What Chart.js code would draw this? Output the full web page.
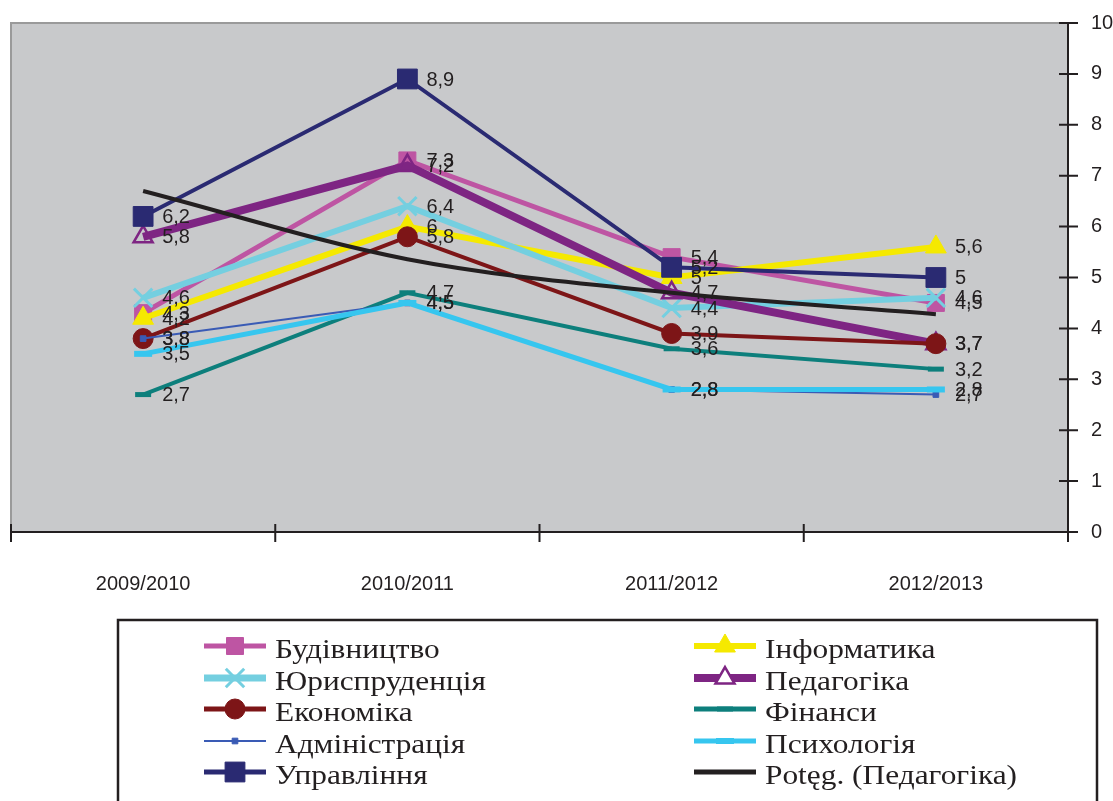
<!DOCTYPE html>
<html><head><meta charset="utf-8">
<script src="https://cdn.jsdelivr.net/npm/chart.js@4/dist/chart.umd.min.js"></script>
<style>html,body{margin:0;padding:0;background:#fff;}#wrap{width:1113px;height:801px;position:relative;}canvas{display:block;}</style>
</head><body><div id="wrap"><canvas id="c" width="1113" height="801"></canvas></div>
<script>
const categories = ['2009/2010', '2010/2011', '2011/2012', '2012/2013'];
const yTickValues = [0, 1, 2, 3, 4, 5, 6, 7, 8, 9, 10];
const budivnytstvo = [4.3, 7.3, 5.4, 4.5];
const informatyka = [4.2, 6.0, 5.0, 5.6];
const yurysprudentsiia = [4.6, 6.4, 4.4, 4.6];
const pedahohika = [5.8, 7.2, 4.7, 3.7];
const ekonomika = [3.8, 5.8, 3.9, 3.7];
const finansy = [2.7, 4.7, 3.6, 3.2];
const administratsiia = [3.8, 4.5, 2.8, 2.7];
const psykholohiia = [3.5, 4.5, 2.8, 2.8];
const upravlinnia = [6.2, 8.9, 5.2, 5.0];
const trendPedahohika = [6.7, 5.36, 4.7, 4.28];
const seriesNames = ['Будівництво', 'Інформатика', 'Юриспруденція', 'Педагогіка', 'Економіка',
  'Фінанси', 'Адміністрація', 'Психологія', 'Управління', 'Potęg. (Педагогіка)'];

const TXT = '#231F20';
const styles = [
  {c:'#BE55A3', w:5, ps:'rect', r:12, fill:'#BE55A3', pw:1, lw:5},
  {c:'#F5E900', w:6, ps:'triangle', r:12, fill:'#F5E900', pw:1, lw:6},
  {c:'#74CFE0', w:6, ps:'crossRot', r:13, fill:'#74CFE0', pw:3, lw:7},
  {c:'#7E2583', w:8, ps:'triangle', r:11, fill:'rgba(0,0,0,0)', pw:2.5, lw:8},
  {c:'#7D1517', w:4, ps:'circle', r:10, fill:'#7D1517', pw:1, lw:5},
  {c:'#0D7F7C', w:4, ps:'line', r:8, fill:'#0D7F7C', pw:5, lw:5},
  {c:'#3A5BB5', w:2, ps:'rect', r:4, fill:'#3A5BB5', pw:1, lw:2},
  {c:'#36C6EF', w:5, ps:'line', r:9, fill:'#36C6EF', pw:6, lw:5},
  {c:'#2A2A72', w:4, ps:'rect', r:14, fill:'#2A2A72', pw:1, lw:5},
  {c:'#231F20', w:4, ps:false, r:0, fill:'#231F20', pw:1, lw:5}
];
const seriesData = [budivnytstvo, informatyka, yurysprudentsiia, pedahohika, ekonomika,
  finansy, administratsiia, psykholohiia, upravlinnia, trendPedahohika];

const datasets = seriesData.map((d, i) => {
  const s = styles[i];
  return {
    label: seriesNames[i], data: d,
    borderColor: s.c, backgroundColor: s.fill, borderWidth: s.w,
    pointStyle: s.ps, pointRadius: s.r, pointHoverRadius: s.r,
    pointBackgroundColor: s.fill, pointBorderColor: s.c, pointBorderWidth: s.pw,
    tension: 0, cubicInterpolationMode: i === 9 ? 'monotone' : 'default',
    order: 20 - i, clip: false, isTrend: i === 9
  };
});

function fmt(v) { return String(v).replace('.', ','); }

function drawMarker(ctx, s, x, y, legend) {
  if (!s.ps) return;
  ctx.save();
  ctx.fillStyle = legend && s.fill === 'rgba(0,0,0,0)' ? '#ffffff' : s.fill;
  ctx.strokeStyle = s.c; ctx.lineWidth = s.pw;
  Chart.helpers.drawPoint(ctx, {pointStyle: s.ps, radius: s.r, rotation: 0, borderWidth: s.pw}, x, y);
  ctx.restore();
}

const bgPlugin = {
  id: 'bg',
  beforeDraw(chart) {
    const {ctx, chartArea: a} = chart;
    ctx.save();
    ctx.fillStyle = '#C8C9CB';
    ctx.fillRect(a.left, a.top, a.right - a.left, a.bottom - a.top);
    ctx.strokeStyle = '#9A9A9A'; ctx.lineWidth = 2;
    ctx.beginPath();
    ctx.moveTo(a.left, a.bottom); ctx.lineTo(a.left, a.top); ctx.lineTo(a.right, a.top);
    ctx.stroke();
    ctx.restore();
  },
  afterDatasetsDraw(chart) {
    const {ctx, chartArea: a} = chart;
    const ys = chart.scales.y;
    ctx.save();
    ctx.strokeStyle = TXT; ctx.lineWidth = 2;
    ctx.beginPath();
    ctx.moveTo(a.left, a.bottom); ctx.lineTo(a.right, a.bottom);
    const n = categories.length;
    for (let i = 0; i <= n; i++) {
      const px = a.left + (a.right - a.left) * i / n;
      ctx.moveTo(px, a.bottom - 8); ctx.lineTo(px, a.bottom + 10);
    }
    ctx.moveTo(a.right, a.top - 1); ctx.lineTo(a.right, a.bottom + 10);
    yTickValues.forEach(v => {
      const py = ys.getPixelForValue(v);
      ctx.moveTo(a.right - 9, py); ctx.lineTo(a.right + 10, py);
    });
    ctx.stroke();
    ctx.fillStyle = TXT;
    ctx.font = '20px "Liberation Sans", Arial, sans-serif';
    ctx.textBaseline = 'middle'; ctx.textAlign = 'left';
    chart.data.datasets.forEach((ds, di) => {
      if (ds.isTrend) return;
      const meta = chart.getDatasetMeta(di);
      meta.data.forEach((pt, j) => {
        ctx.fillText(fmt(ds.data[j]), pt.x + 19, pt.y + 1);
      });
    });
    ctx.restore();
  },
  afterDraw(chart) {
    const {ctx} = chart;
    ctx.save();
    ctx.strokeStyle = TXT; ctx.lineWidth = 2.5;
    ctx.beginPath();
    ctx.moveTo(118, 812); ctx.lineTo(118, 620); ctx.lineTo(1097, 620); ctx.lineTo(1097, 812);
    ctx.stroke();
    const rows = [646, 678, 709, 741, 772];
    const cols = [[204, 266, 275], [694, 756, 765]];
    ctx.font = '28px "Liberation Serif", "Times New Roman", serif';
    ctx.textBaseline = 'middle'; ctx.textAlign = 'left';
    seriesNames.forEach((name, i) => {
      const s = styles[i];
      const col = cols[i % 2], y = rows[Math.floor(i / 2)];
      ctx.strokeStyle = s.c; ctx.lineWidth = s.lw; ctx.lineCap = 'butt';
      ctx.beginPath(); ctx.moveTo(col[0], y); ctx.lineTo(col[1], y); ctx.stroke();
      drawMarker(ctx, s, (col[0] + col[1]) / 2, y, true);
      ctx.save();
      ctx.fillStyle = TXT;
      ctx.translate(col[2], y + 5);
      ctx.scale(1.12, 1);
      ctx.fillText(name, 0, 0);
      ctx.restore();
    });
    ctx.restore();
  }
};

Chart.defaults.font.family = '"Liberation Sans", Arial, sans-serif';
Chart.defaults.color = TXT;

new Chart(document.getElementById('c'), {
  type: 'line',
  data: { labels: categories, datasets },
  plugins: [bgPlugin],
  options: {
    responsive: false, animation: false,
    layout: { autoPadding: false, padding: { top: 23, left: 11, right: 0, bottom: 0 } },
    plugins: { legend: { display: false }, tooltip: { enabled: false } },
    scales: {
      x: {
        type: 'category', offset: true, position: 'bottom',
        grid: { display: false, drawTicks: false }, border: { display: false },
        ticks: { font: { size: 20 }, color: TXT, padding: 40, maxRotation: 0 },
        afterFit(s) { s.height = 269; s.paddingLeft = 0; s.paddingRight = 0; }
      },
      y: {
        position: 'right', min: 0, max: 10,
        grid: { display: false, drawTicks: false }, border: { display: false },
        ticks: { stepSize: 1, font: { size: 20 }, color: TXT, padding: 23 },
        afterFit(s) { s.width = 45; s.paddingTop = 0; s.paddingBottom = 0; }
      }
    }
  }
});
</script></body></html>
